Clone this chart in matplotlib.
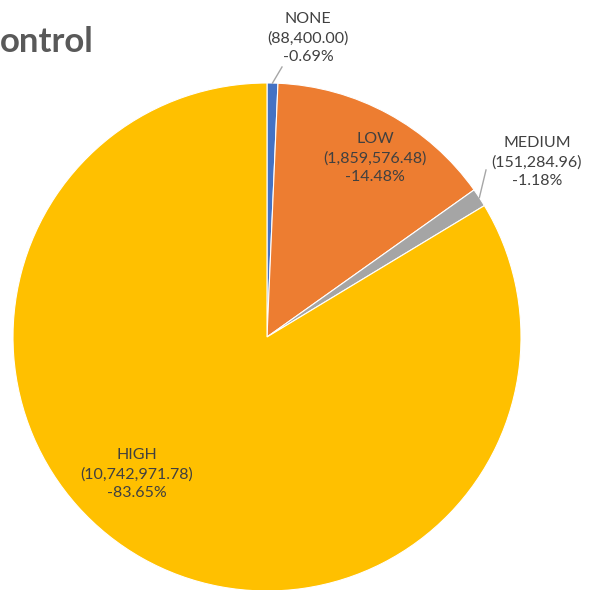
import numpy as np
import matplotlib
matplotlib.use("Agg")
import matplotlib.pyplot as plt

categories = ["NONE", "LOW", "MEDIUM", "HIGH"]
values = [88400.00, 1859576.48, 151284.96, 10742971.78]
percents = ["0.69", "14.48", "1.18", "83.65"]
colors = ["#4472C4", "#ED7D31", "#A5A5A5", "#FFC000"]

W, H = 589, 590
fig = plt.figure(figsize=(W / 100, H / 100), dpi=100)
ax = fig.add_axes([0, 0, 1, 1])

cx, cy, R = 267, H - 337, 254
wedges, _ = ax.pie(values, colors=colors, startangle=90, counterclock=False,
                   center=(cx, cy), radius=R, frame=True,
                   wedgeprops=dict(edgecolor="white", linewidth=0.8))
ax.set_xlim(0, W)
ax.set_ylim(0, H)
ax.set_aspect("equal")
ax.axis("off")

font = "Lato"
tc = "#404040"
# label positions (pixels from top-left)
label_pos = {"NONE": (308, 38), "LOW": (375, 158), "MEDIUM": (537, 162), "HIGH": (137, 474)}
leader_end = {"NONE": (282, 67), "MEDIUM": (486, 170)}

for w, name, v, p in zip(wedges, categories, values, percents):
    lx, ly = label_pos[name]
    txt = f"{name}\n({v:,.2f})\n-{p}%"
    ax.text(lx, H - ly, txt, ha="center", va="center", fontsize=11.5,
            family=font, color=tc, linespacing=1.42)
    if name in leader_end:
        mid = np.deg2rad((w.theta1 + w.theta2) / 2)
        sx, sy = cx + R * np.cos(mid), cy + R * np.sin(mid)
        ex, ey = leader_end[name]
        ax.plot([sx, ex], [sy, H - ey], color="#A6A6A6", lw=1)

fig.text(0, 1 - 42 / H, "ontrol", ha="left", va="center", fontsize=25,
         fontweight="bold", family=font, color="#595959")

fig.savefig("out.png", dpi=100)
